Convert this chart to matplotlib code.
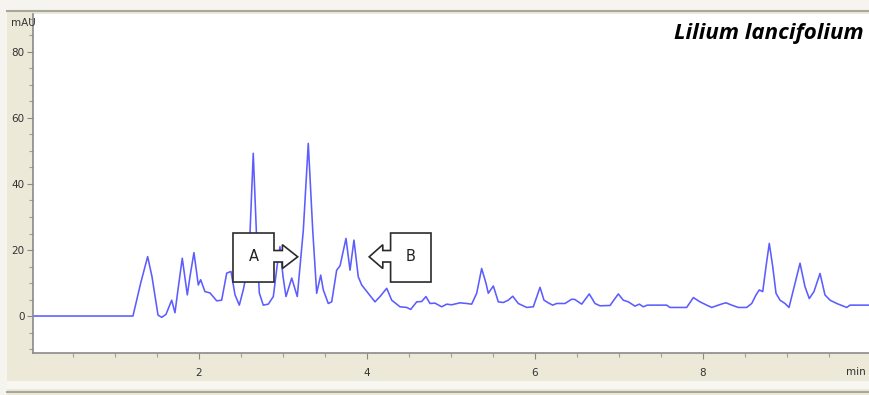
import matplotlib
matplotlib.use("Agg")
import matplotlib.pyplot as plt
from matplotlib.patches import Polygon, Rectangle
from matplotlib.lines import Line2D
from matplotlib.ticker import MultipleLocator

# ---- data (retention time in min, absorbance in mAU) ----
time_min = [0.0, 1.214, 1.306, 1.389, 1.44, 1.512, 1.556, 1.607, 1.675, 1.714, 1.75, 1.801,
            1.861, 1.893, 1.94, 1.992, 2.02, 2.071, 2.131, 2.211, 2.27, 2.33, 2.381, 2.429,
            2.48, 2.527, 2.568, 2.607, 2.646, 2.687, 2.718, 2.765, 2.825, 2.885, 2.929, 2.964,
            3.0, 3.036, 3.104, 3.17, 3.242, 3.301, 3.354, 3.401, 3.449, 3.48, 3.539, 3.58,
            3.639, 3.679, 3.75, 3.798, 3.845, 3.896, 3.937, 4.015, 4.095, 4.155, 4.235, 4.294,
            4.393, 4.473, 4.52, 4.592, 4.651, 4.702, 4.75, 4.81, 4.889, 4.949, 5.008, 5.107,
            5.187, 5.246, 5.306, 5.365, 5.417, 5.444, 5.504, 5.563, 5.623, 5.682, 5.735, 5.801,
            5.901, 5.98, 6.06, 6.107, 6.158, 6.21, 6.258, 6.357, 6.437, 6.476, 6.556, 6.646,
            6.714, 6.774, 6.893, 6.992, 7.051, 7.111, 7.19, 7.242, 7.289, 7.337, 7.568, 7.607,
            7.806, 7.885, 7.964, 8.044, 8.104, 8.182, 8.242, 8.274, 8.342, 8.42, 8.52, 8.58,
            8.631, 8.67, 8.711, 8.75, 8.789, 8.83, 8.869, 8.917, 8.976, 9.024, 9.095, 9.155,
            9.214, 9.265, 9.321, 9.393, 9.452, 9.512, 9.592, 9.711, 9.75, 9.99]
absorbance_mau = [0.0, 0.0, 10.0, 18.0, 12.0, 0.3, -0.4, 0.5, 4.8, 1.0, 8.0, 17.5,
                  6.4, 12.0, 19.2, 9.4, 11.0, 7.4, 7.0, 4.6, 4.8, 13.0, 13.5, 6.4,
                  3.3, 7.9, 13.0, 25.0, 49.3, 23.0, 7.0, 3.3, 3.6, 5.9, 15.0, 21.0,
                  12.0, 5.9, 11.5, 5.9, 26.0, 52.3, 26.0, 6.9, 12.4, 7.9, 3.8, 4.3,
                  13.9, 15.2, 23.5, 13.9, 23.0, 11.9, 9.4, 6.9, 4.3, 5.9, 8.4, 4.8,
                  2.8, 2.6, 2.0, 4.3, 4.4, 5.9, 3.8, 3.9, 2.8, 3.6, 3.4, 4.0,
                  3.8, 3.6, 6.9, 14.4, 9.9, 6.9, 9.1, 4.3, 4.1, 4.8, 6.0, 3.8,
                  2.6, 2.8, 8.7, 4.8, 4.0, 3.3, 3.8, 3.8, 5.1, 5.0, 3.6, 6.7,
                  3.8, 3.1, 3.2, 6.7, 4.8, 4.3, 3.0, 3.6, 2.8, 3.3, 3.3, 2.6,
                  2.6, 5.6, 4.3, 3.3, 2.6, 3.3, 3.8, 4.0, 3.3, 2.6, 2.6, 3.8,
                  6.4, 7.9, 7.4, 15.0, 22.0, 15.0, 6.9, 4.8, 3.8, 2.6, 9.9, 16.0,
                  8.9, 5.3, 7.4, 12.9, 6.4, 4.8, 3.8, 2.6, 3.3, 3.3]
y_ticks = [0, 20, 40, 60, 80]
x_ticks = [2, 4, 6, 8]
title_text = "Lilium lancifolium"
labels = ["A", "B"]

W, H = 870, 395
fig = plt.figure(figsize=(W / 100, H / 100), dpi=100)
fig.patch.set_facecolor("#ECE9D8")

def px(x, y):
    return x / W, 1 - y / H

# window frame decorations
fig.patches.append(Rectangle((0, 1 - 10 / H), 1, 10 / H, transform=fig.transFigure,
                             facecolor="#F5F4EE", edgecolor="none", zorder=0))
fig.patches.append(Rectangle((0, 0), 7 / W, 1, transform=fig.transFigure,
                             facecolor="#F5F4EE", edgecolor="none", zorder=0))
fig.lines.append(Line2D([7 / W, 1], [1 - 11 / H, 1 - 11 / H], transform=fig.transFigure,
                        color="#A8A79C", lw=1.5))
fig.patches.append(Rectangle((7 / W, 1 - 389 / H), 1, 8 / H, transform=fig.transFigure,
                             facecolor="#F7F6F0", edgecolor="none", zorder=0))
fig.lines.append(Line2D([7 / W, 1], [1 - 392 / H, 1 - 392 / H], transform=fig.transFigure,
                        color="#A8A79C", lw=1.5))

ax_left, ax_top, ax_right, ax_bottom = 33, 14, 870, 353
ax = fig.add_axes([ax_left / W, 1 - ax_bottom / H, (ax_right - ax_left) / W,
                   (ax_bottom - ax_top) / H])
ax.set_facecolor("white")
ax.plot(time_min, absorbance_mau, color="#5c5cff", lw=1.15, zorder=2,
        solid_joinstyle="round")

ax.set_xlim(0.024, 9.988)
ax.set_ylim(-11.2, 91.5)
for s in ["top", "right"]:
    ax.spines[s].set_visible(False)
for s in ["left", "bottom"]:
    ax.spines[s].set_color("#8a8a8a")
    ax.spines[s].set_linewidth(1.2)

ax.set_yticks(y_ticks)
ax.yaxis.set_minor_locator(MultipleLocator(5))
ax.set_xticks(x_ticks)
ax.xaxis.set_minor_locator(MultipleLocator(0.5))
tick_font = dict(family=["Liberation Sans Narrow", "DejaVu Sans"], size=7.5)
ax.set_yticklabels([str(v) for v in y_ticks], **tick_font, color="#333333")
ax.set_xticklabels([str(v) for v in x_ticks], **tick_font, color="#333333")
ax.tick_params(axis="both", which="major", length=4, width=0.8, color="#8a8a8a", pad=2)
ax.tick_params(axis="both", which="minor", length=3, width=0.8, color="#a0a0a0")
ax.tick_params(axis="x", which="major", pad=7)

fig.text(*px(11, 23), "mAU", ha="left", va="center", color="#333333", **tick_font)
fig.text(*px(866, 372), "min", ha="right", va="center", color="#333333", **tick_font)

# title
ax.text(*px(864, 33), title_text, transform=fig.transFigure, ha="right", va="center",
        fontsize=16, fontweight="bold", fontstyle="italic",
        family=["Open Sans", "DejaVu Sans"], color="black")

# callout shapes (in pixel space -> axes data)
def to_data(x, y):
    return ((x - 31) / 84.0, (316 - y) / 3.3)

shape_A = [(233, 233), (274, 233), (274, 250.5), (282.4, 250.5), (282.4, 244.7),
           (297.7, 256.8), (282.4, 268.5), (282.4, 262), (274, 262), (274, 282), (233, 282)]
shape_B = [(431, 233), (390.6, 233), (390.6, 250.5), (382.8, 250.5), (382.8, 244.7),
           (369.2, 256.8), (382.8, 268.5), (382.8, 262), (390.6, 262), (390.6, 282), (431, 282)]
for shp, lab, cx in [(shape_A, labels[0], 253.5), (shape_B, labels[1], 411)]:
    poly = Polygon([to_data(*p) for p in shp], closed=True, facecolor="white",
                   edgecolor="#2b2b2b", lw=1.2, zorder=5)
    ax.add_patch(poly)
    ax.text(*to_data(cx, 256), lab, ha="center", va="center", fontsize=10.5,
            color="#222222", zorder=6)

fig.savefig("out.png", dpi=100, facecolor=fig.get_facecolor())
